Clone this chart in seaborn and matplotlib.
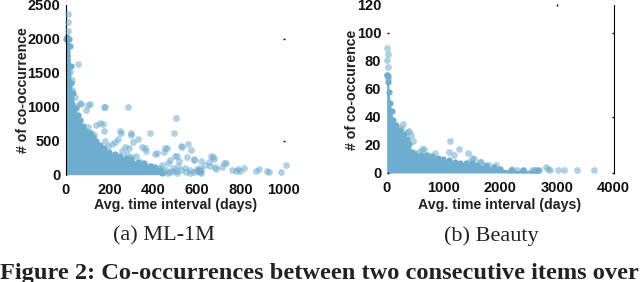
import matplotlib
matplotlib.use('Agg')
import matplotlib.pyplot as plt
import seaborn as sns
import pandas as pd

# ML-1M, scattered points
ml_x = [12,12,12,55,20,30,27,43,65,48,72,104,111,93,175,178,285,505,498,300,298,385,249,252,174,127,157,140,170,
        100,115,130,210,225,240,195,180,270,290,310,330,350,365,370,410,420,450,455,465,500,510,530,560,575,
        535,555,590,620,615,600,620,665,675,680,655,640,685,690,725,735,715,780,790,800,815,870,885,920,930,985,1010,
        520,480,470,490,440,430,400,380,340,320,260,280,300,600,570,545,505,515,610,590,660,760,
        450,470,490,510,530,550,570,590,610,615,620,460,480]
ml_y = [2365,2245,2120,1625,1515,1400,1250,1150,1050,1010,1040,1025,1040,950,1000,1000,1000,830,610,610,590,610,650,620,650,
        510,765,730,740,700,620,590,450,480,520,430,500,410,400,480,520,410,400,350,310,320,330,390,390,270,280,
        430,450,360,410,260,230,200,100,90,70,270,260,230,180,150,110,90,170,170,120,60,80,60,100,50,90,60,40,40,140,
        200,220,170,100,150,100,90,130,180,270,350,300,260,60,70,100,60,130,50,210,130,70,
        40,30,60,30,70,40,30,40,60,40,30,70,40]

# ML-1M, upper edge of the dense block
ml_edge_x = [0,8,14,19,22,25,32,45,55,65,80,95,110,125,140,155,175,200,225,250,275,300,330,360,390,410,430,440]
ml_edge_y = [2000,2030,2000,1900,1600,1350,1200,980,880,800,720,640,610,560,490,440,390,340,310,280,250,230,190,170,130,120,70,30]

# Beauty, scattered points
be_x = [10,15,12,30,8,20,1120,1090,1280,1190,1430,1510,1540,290,390,430,460,620,650,570,850,1460,1670,1800,1920,
        2210,2640,2680,2810,2850,2880,3020,3120,3360,3650,2560,2600,2400,2300,1640,1750,500,720,350,250]
be_y = [89,85,81,76,70,67,23,15,17,13,14,11,10,35,30,27,23,17,17,15,14,8,8,6,6,
        3,2,2,4,3,2,2,2,2,2,2,2,2,2,8,6,14,13,29,32]

# Beauty, upper edge of the dense block
be_edge_x = [0,15,30,45,60,90,110,170,230,300,350,400,450,500,600,700,800,900,1000,1100,1200,1300,1400,1500,1600,1750,1900,2000,2200,2400,2660]
be_edge_y = [70,69,65,58,50,44,38,34,31,28,24,21,15,13,13,13,12,11,10,9,8,7,7,7,6,5,4,3,2,2,2]

ml_ticks_x = [0,200,400,600,800,1000]
ml_ticks_y = [0,500,1000,1500,2000,2500]
be_ticks_x = [0,1000,2000,3000,4000]
be_ticks_y = [0,20,40,60,80,100,120]

W, H = 640, 282
blue = '#6fadce'
sns.set_style('white')
plt.rcParams['font.family'] = ['Liberation Sans']

fig = plt.figure(figsize=(W/100, H/100), dpi=100)

def panel(box, xs, ys, ex, ey, xlim, ylim, tx, ty):
    ax = fig.add_axes([box[0]/W, 1-box[3]/H, (box[2]-box[0])/W, (box[3]-box[1])/H])
    ax.fill_between(ex, ey, 0, color=blue, lw=0, zorder=1)
    sns.scatterplot(data=pd.DataFrame({'x': ex, 'y': ey}), x='x', y='y', ax=ax, color=blue,
                    s=20, linewidth=0, zorder=2, clip_on=False)
    sns.scatterplot(data=pd.DataFrame({'x': xs, 'y': ys}), x='x', y='y', ax=ax, color=blue,
                    s=24, alpha=0.55, linewidth=0, zorder=3, clip_on=False)
    ax.set_xlim(xlim)
    ax.set_ylim(ylim)
    ax.set_xticks(tx)
    ax.set_yticks(ty)
    ax.tick_params(length=0, labelsize=10.5, labelcolor='#111111')
    ax.tick_params(axis='x', pad=6)
    ax.tick_params(axis='y', pad=4)
    for t in ax.get_xticklabels() + ax.get_yticklabels():
        t.set_fontweight('bold')
    ax.set_xlabel('')
    ax.set_ylabel('')
    for s in ax.spines.values():
        s.set_visible(False)
    return ax

a1 = panel((65.7, 5, 284, 174.7), ml_x, ml_y, ml_edge_x, ml_edge_y, (0, 1000), (0, 2500),
           ml_ticks_x, ml_ticks_y)
a1.spines['left'].set_visible(True)
a1.spines['left'].set_color('black')
a1.spines['left'].set_linewidth(0.8)
a1.plot([1000], [2000], marker='_', ms=1.5, color='black', clip_on=False)
a1.plot([1000], [500], marker='_', ms=1.5, color='black', clip_on=False)

a2 = panel((386.7, 5, 613.5, 173), be_x, be_y, be_edge_x, be_edge_y, (0, 4000), (0, 120),
           be_ticks_x, be_ticks_y)
a2.spines['right'].set_visible(True)
a2.spines['right'].set_color('black')
a2.spines['right'].set_linewidth(0.8)
for v in [0, 40, 100]:
    a2.plot([3985], [v], marker='_', ms=2, color='black', clip_on=False)
a2.plot([3000], [120], marker='|', ms=1.5, color='black', clip_on=False)
a2.plot([30], [100], marker='_', ms=1.5, color='black', clip_on=False)
a2.plot([30], [0], marker='_', ms=1.5, color='black', clip_on=False, zorder=5)

def px(x, y, s, **kw):
    fig.text(x/W, 1-y/H, s, ha=kw.pop('ha', 'center'), va=kw.pop('va', 'center'), **kw)

lab = dict(fontsize=10.2, fontweight='bold', color='#222222')
px(176, 205.5, 'Avg. time interval (days)', **lab)
px(500, 205.5, 'Avg. time interval (days)', **lab)
px(23, 90, '# of co-occurrence', rotation=90, **lab)
px(352, 90, '# of co-occurence', rotation=90, **lab)

cap = dict(family='Liberation Serif', color='#222222')
px(163.5, 236, '(a) ML-1M', fontsize=16, **cap)
px(491, 236, '(b) Beauty', fontsize=16, **cap)
px(0, 273, 'Figure 2: Co-occurrences between two consecutive items over', ha='left', fontsize=17.6,
   fontweight='bold', **cap)

fig.savefig('out.png', dpi=100)
